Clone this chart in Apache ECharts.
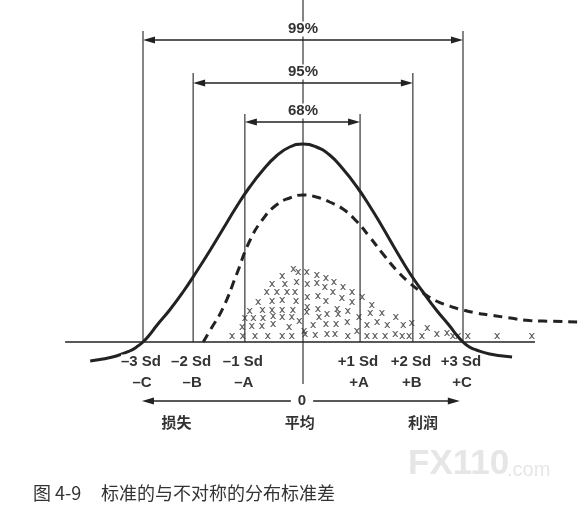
<!DOCTYPE html>
<html>
<head>
<meta charset="utf-8">
<script src="https://cdn.jsdelivr.net/npm/echarts@6.0.0/dist/echarts.min.js"></script>
<style>
html,body{margin:0;padding:0;background:#fff;}
#chart{width:584px;height:510px;}
</style>
</head>
<body>
<div id="chart"></div>
<script>
// ---------- data: x in standard deviations, y in height units above the base line ----------
const sdPositions = [-3.0, -2.06, -1.09, 1.07, 2.06, 3.0];
const sdLabels = ['–3 Sd', '–2 Sd', '–1 Sd', '+1 Sd', '+2 Sd', '+3 Sd'];
const letterLabels = ['–C', '–B', '–A', '+A', '+B', '+C'];
const rangeLabels = ['99%', '95%', '68%'];
const rangeFrom = [-3.0, -2.06, -1.09];
const rangeTo = [3.0, 2.06, 1.07];
const rangeTops = [311, 269, 228];
const rangeArrowLevels = [302, 259, 220];
const outcomeLabels = ['损失', '平均', '利润'];
const outcomePositions = [-2.37, -0.06, 2.25];
const zeroLabel = '0';
const baseLineSpan = [-4.46, 4.35];
const centerLineSpan = [342, -42];
const bottomArrowSpan = [-3.02, 2.94];

const normalCurve = [
  [-3.99, -19], [-3.75, -17], [-3.5, -14], [-3.25, -9], [-3.12, -5], [-3.0, 0],
  [-2.88, 7], [-2.75, 16], [-2.5, 32], [-2.25, 50], [-2.0, 70], [-1.75, 91],
  [-1.5, 113], [-1.25, 135], [-1.0, 155], [-0.75, 172], [-0.5, 186], [-0.25, 195],
  [0, 198], [0.25, 195], [0.5, 187], [0.75, 173], [1.0, 156], [1.25, 136],
  [1.5, 114], [1.75, 91], [2.0, 69], [2.25, 50], [2.5, 32], [2.75, 16],
  [2.88, 7], [3.0, 0], [3.12, -5], [3.25, -8], [3.5, -12], [3.75, -14], [3.92, -15]
];
const skewedCurve = [
  [-1.87, 0], [-1.75, 11], [-1.5, 34], [-1.25, 67], [-1.0, 101], [-0.75, 123],
  [-0.5, 137], [-0.25, 144], [0, 147], [0.25, 145], [0.5, 140], [0.75, 133],
  [1.0, 121], [1.25, 105], [1.5, 88], [1.75, 72], [2.0, 59], [2.25, 49],
  [2.5, 41], [2.75, 36], [3.0, 32], [3.25, 29], [3.5, 27], [3.75, 25],
  [4.0, 23], [4.25, 21.5], [4.5, 21], [5.14, 20]
];
const observations = [
  [-1.33, 6], [-1.13, 6], [-0.9, 6], [-0.66, 6], [-0.39, 6], [-0.21, 6], [0.04, 8], [0.23, 7],
  [0.45, 8], [0.6, 8], [0.84, 6], [1.01, 11], [1.2, 6], [1.35, 6], [1.54, 6], [1.73, 8],
  [1.86, 6], [1.99, 6], [2.23, 6], [2.51, 8], [2.7, 9], [2.81, 6], [2.91, 6], [3.09, 6],
  [3.64, 6], [4.29, 6],
  [-1.14, 15], [-0.96, 16], [-0.77, 16], [-0.56, 18], [-0.26, 15], [0.02, 11], [0.19, 17],
  [0.43, 18], [0.62, 18], [0.83, 20], [1.2, 17], [1.39, 20], [1.58, 17], [1.88, 17],
  [2.04, 19], [2.33, 14],
  [-1.09, 24], [-0.93, 24], [-0.75, 24], [-0.56, 26], [-0.39, 25], [-0.21, 25], [-0.07, 21],
  [0.07, 30], [0.3, 25], [0.45, 28], [0.66, 28], [1.05, 25], [1.26, 29], [1.48, 29], [1.74, 25],
  [-1.0, 31], [-0.76, 32], [-0.58, 32], [-0.39, 32], [-0.19, 32], [0.08, 35], [0.28, 33],
  [0.64, 33], [0.84, 31], [1.29, 37],
  [-0.84, 40], [-0.58, 41], [-0.39, 42], [-0.13, 41], [0.08, 45], [0.28, 46], [0.43, 41],
  [0.73, 44], [0.92, 40], [1.11, 45],
  [-0.68, 50], [-0.49, 50], [-0.3, 50], [-0.15, 50], [0.41, 55], [0.56, 50], [0.75, 55], [0.92, 50],
  [-0.58, 58], [-0.34, 58], [-0.12, 60], [0.08, 58], [0.26, 59], [0.58, 60],
  [-0.39, 66], [-0.09, 70], [0.07, 70], [0.26, 67], [0.43, 64],
  [-0.18, 73]
];

// ---------- layout / style ----------
const INK = '#222';
const TEXT = '#333';
const LATIN = '"Liberation Sans", Arial, sans-serif';
const CJK = '"Noto Sans CJK SC", sans-serif';
const ROW_SD = -20, ROW_LETTER = -41, ROW_ZERO = -59, ROW_WORD = -80;
const RANGE_LABEL_LIFT = 11;
const HEAD_LEN = 12, HEAD_HALF = 3.5;

function seg(a, b, w) {
  return { type: 'line', shape: { x1: a[0], y1: a[1], x2: b[0], y2: b[1] }, style: { stroke: INK, lineWidth: w } };
}
function head(tip, dir) {
  return { type: 'polygon', shape: { points: [tip, [tip[0] + dir * HEAD_LEN, tip[1] - HEAD_HALF], [tip[0] + dir * HEAD_LEN, tip[1] + HEAD_HALF]] }, style: { fill: INK } };
}
function doubleArrow(a, b, w) {
  return [seg([a[0] + HEAD_LEN - 2, a[1]], [b[0] - HEAD_LEN + 2, b[1]], w), head(a, 1), head(b, -1)];
}
function label(p, text, font, pad) {
  return { type: 'text', x: p[0], y: p[1], style: { text: text, font: font, fill: TEXT, align: 'center', verticalAlign: 'middle', backgroundColor: '#fff', padding: pad || 0 } };
}

const chart = echarts.init(document.getElementById('chart'));
chart.setOption({
  animation: false,
  backgroundColor: '#fff',
  grid: { left: 0, right: 0, top: 0, bottom: 0 },
  xAxis: { type: 'value', min: -5.68125, max: 5.26875, show: false, splitLine: { show: false } },
  yAxis: { type: 'value', min: -168, max: 342, show: false, splitLine: { show: false } },
  series: [
    {
      type: 'custom', z: 1, silent: true, data: [[0, 0]],
      renderItem: function (params, api) {
        const P = (x, y) => api.coord([x, y]);
        const ch = [];
        ch.push(seg(P(baseLineSpan[0], 0), P(baseLineSpan[1], 0), 1.6));
        ch.push(seg(P(0, centerLineSpan[0]), P(0, centerLineSpan[1]), 1.1));
        rangeLabels.forEach(function (t, i) {
          ch.push(seg(P(rangeFrom[i], 0), P(rangeFrom[i], rangeTops[i]), 1.1));
          ch.push(seg(P(rangeTo[i], 0), P(rangeTo[i], rangeTops[i]), 1.1));
          doubleArrow(P(rangeFrom[i], rangeArrowLevels[i]), P(rangeTo[i], rangeArrowLevels[i]), 1.3).forEach(e => ch.push(e));
        });
        doubleArrow(P(bottomArrowSpan[0], ROW_ZERO), P(bottomArrowSpan[1], ROW_ZERO), 1.3).forEach(e => ch.push(e));
        return { type: 'group', children: ch };
      }
    },
    {
      type: 'line', z: 3, data: normalCurve, smooth: 0.5, showSymbol: false, silent: true,
      lineStyle: { color: INK, width: 3 }
    },
    {
      type: 'line', z: 3, data: skewedCurve, smooth: 0.5, showSymbol: false, silent: true,
      lineStyle: { color: INK, width: 3, type: [9, 6] }
    },
    {
      type: 'scatter', z: 2, data: observations, silent: true, symbolSize: 6,
      symbol: 'path://M0,0L2,0L5,3L8,0L10,0L6,5L10,10L8,10L5,7L2,10L0,10L4,5Z',
      itemStyle: { color: '#333' }
    },
    {
      type: 'custom', z: 10, silent: true, data: [[0, 0]],
      renderItem: function (params, api) {
        const P = (x, y) => api.coord([x, y]);
        const ch = [];
        const f15 = 'bold 15px ' + LATIN;
        rangeLabels.forEach(function (t, i) {
          const p = P(0, rangeArrowLevels[i]);
          ch.push(label([p[0], p[1] - RANGE_LABEL_LIFT], t, f15, [0, 3]));
        });
        sdPositions.forEach(function (x, i) {
          const p1 = P(x, ROW_SD), p2 = P(x, ROW_LETTER);
          ch.push(label([p1[0] - 2, p1[1]], sdLabels[i], f15));
          ch.push(label([p2[0] - 1, p2[1]], letterLabels[i], f15));
        });
        const z = P(0, ROW_ZERO);
        ch.push(label([z[0] - 1, z[1]], zeroLabel, f15, [0, 7]));
        outcomeLabels.forEach(function (t, i) {
          ch.push(label(P(outcomePositions[i], ROW_WORD), t, 'bold 15px ' + CJK));
        });
        return { type: 'group', children: ch };
      }
    }
  ],
  graphic: [
    { type: 'text', x: 408, y: 464, style: { text: 'FX110', font: 'bold 35px "Liberation Sans", Arial', fill: '#e6e6e6', verticalAlign: 'middle' } },
    { type: 'text', x: 507, y: 470, style: { text: '.com', font: '20px "Liberation Sans", Arial', fill: '#e6e6e6', verticalAlign: 'middle' } },
    { type: 'text', x: 33, y: 493, style: { text: '图 4-9', font: '18px ' + CJK, fill: '#333', verticalAlign: 'middle' } },
    { type: 'text', x: 101, y: 493, style: { text: '标准的与不对称的分布标准差', font: '18px ' + CJK, fill: '#333', verticalAlign: 'middle' } }
  ]
});
</script>
</body>
</html>
